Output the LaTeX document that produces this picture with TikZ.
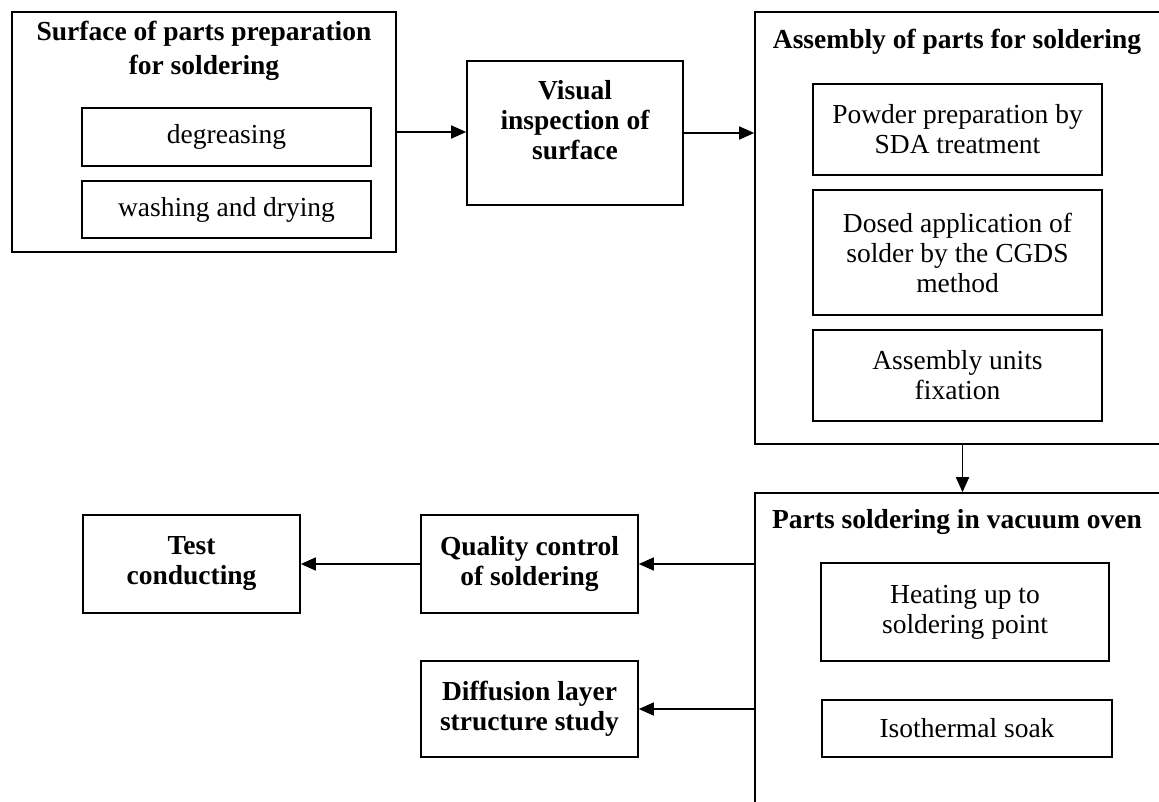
\documentclass[tikz,border=0pt]{standalone}
\usepackage{fontspec}
\setmainfont{Liberation Serif}
\usepackage{tikz}
\usetikzlibrary{arrows.meta}
\tikzset{
  stage/.style={draw=black, line width=1.6pt, minimum width=289pt, inner sep=0pt, align=center, font=\fontsize{27.5pt}{30pt}\selectfont},
  keystage/.style={stage, minimum width=217pt, font=\fontsize{27.5pt}{30pt}\selectfont\bfseries},
  group/.style={draw=black, line width=1.6pt, minimum width=407pt, inner sep=0pt},
  heading/.style={align=center, inner sep=0pt, font=\fontsize{27.5pt}{34pt}\selectfont\bfseries},
  flow/.style={-{Triangle[length=15pt,width=13pt]}, line width=1.6pt, draw=black}
}
\begin{document}
\begin{tikzpicture}[x=1pt, y=-1pt]
  \useasboundingbox (0,0) rectangle (1159,801);

  % surface preparation
  \node[group, minimum width=384pt, minimum height=240pt] (prep) at (204,132) {};
  \node[heading] (prept) at (204,51) {Surface of parts preparation\\for soldering};
  \node[stage, minimum height=58pt] (degr) at (226.5,137) {degreasing};
  \node[stage, minimum height=57pt] (wash) at (226.5,209.5) {washing and drying};

  \node[keystage, minimum width=216pt, minimum height=144pt] (visual) at (575,133) {Visual\\inspection of\\surface\\[-4pt]\mbox{}};

  % assembly
  \node[group, minimum height=432pt] (asm) at (958.5,228) {};
  \node[heading] (asmt) at (957,42) {Assembly of parts for soldering};
  \node[stage, minimum height=91pt] (powder) at (957.5,129.5) {Powder preparation by\\SDA treatment};
  \node[stage, minimum height=125pt] (dosed) at (957.5,252.5) {Dosed application of\\solder by the CGDS\\method};
  \node[stage, minimum height=91pt] (fix) at (957.5,375.5) {Assembly units\\fixation};

  % soldering in oven
  \node[group, minimum height=327pt] (vac) at (958.5,656.5) {};
  \node[heading] (vact) at (957,522) {Parts soldering in vacuum oven};
  \node[stage, minimum width=288pt, minimum height=98pt] (heat) at (965,612) {Heating up to\\soldering point};
  \node[stage, minimum width=290pt, minimum height=57pt] (soak) at (967,728.5) {Isothermal soak};

  \node[keystage, minimum height=98pt] (quality) at (529.5,564) {Quality control\\of soldering};
  \node[keystage, minimum height=98pt] (test) at (191.5,564) {Test\\conducting};
  \node[keystage, minimum height=96pt] (diff) at (529.5,709) {Diffusion layer\\structure study};

  \draw[flow] (prep.east) -- (prep.east -| visual.west);
  \draw[flow] (visual.east) -- (visual.east -| asm.west);
  \draw[flow] ([xshift=4pt]asm.south) -- ([xshift=4pt]vac.north);
  \draw[flow] (quality.east -| vac.west) -- (quality.east);
  \draw[flow] (quality.west) -- (test.east);
  \draw[flow] (diff.east -| vac.west) -- (diff.east);
\end{tikzpicture}
\end{document}
